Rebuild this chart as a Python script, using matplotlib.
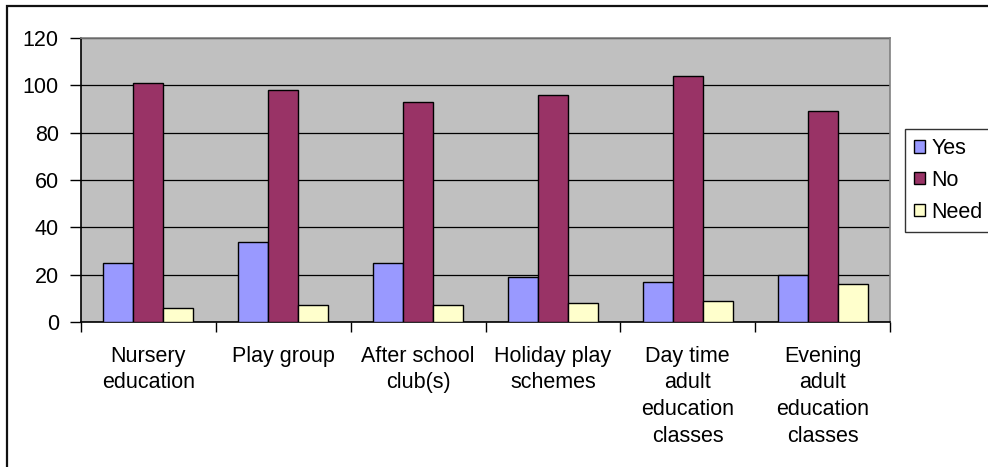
import matplotlib.pyplot as plt
import numpy as np
from matplotlib.patches import Patch, Rectangle

plt.rcParams["font.family"] = ["Liberation Sans", "DejaVu Sans"]

categories = [
    "Nursery\neducation",
    "Play group",
    "After school\nclub(s)",
    "Holiday play\nschemes",
    "Day time\nadult\neducation\nclasses",
    "Evening\nadult\neducation\nclasses",
]
series_names = ["Yes", "No", "Need"]
yes_values = [25, 34, 25, 19, 17, 20]
no_values = [101, 98, 93, 96, 104, 89]
need_values = [6, 7, 7, 8, 9, 16]
y_ticks = [0, 20, 40, 60, 80, 100, 120]

COLORS = ["#9999FF", "#993366", "#FFFFCC"]
FONT = 15.5

W, H = 988, 467
fig = plt.figure(figsize=(W / 100, H / 100), dpi=100)
ax = fig.add_axes([81 / W, 1 - 322 / H, (890 - 81) / W, (322 - 38) / H])
ax.set_facecolor("#C0C0C0")

x = np.arange(len(categories))
width = 0.2225
for i, (vals, color) in enumerate(zip([yes_values, no_values, need_values], COLORS)):
    ax.bar(x + (i - 1) * width, vals, width, color=color, edgecolor="black",
           linewidth=1.0, zorder=3)

ax.set_xlim(-0.5, len(categories) - 0.5)
ax.set_ylim(0, 120)
ax.set_yticks(y_ticks)
ax.yaxis.grid(True, color="black", linewidth=0.9, zorder=1)
ax.set_axisbelow(True)

ax.set_xticks(x)
ax.set_xticklabels(categories, fontsize=FONT, linespacing=1.36, va="top")
ax.tick_params(axis="x", length=0, pad=17)
ax.set_xticks(np.arange(-0.5, len(categories), 1.0), minor=True)
ax.tick_params(axis="x", which="minor", length=7, width=1, direction="out", color="black")
ax.tick_params(axis="y", length=8, width=1, direction="out", pad=8, labelsize=FONT)

for side in ["top", "right"]:
    ax.spines[side].set_color("#808080")
    ax.spines[side].set_linewidth(1.2)
for side in ["left", "bottom"]:
    ax.spines[side].set_color("black")
    ax.spines[side].set_linewidth(1.2)

handles = [Patch(facecolor=c, edgecolor="black", linewidth=1.0) for c in COLORS]
leg = fig.legend(handles, series_names, loc="upper left",
                 bbox_to_anchor=(905 / W, 1 - 129 / H), fontsize=FONT,
                 frameon=True, fancybox=False, edgecolor="black",
                 handlelength=0.5, handleheight=0.5, handletextpad=0.3,
                 borderpad=0.42, labelspacing=0.5, borderaxespad=0)
leg.get_frame().set_linewidth(1.0)

# outer chart border (right and bottom edges are cut off in the original)
fig.patches.append(Rectangle((6.5 / W, -0.1), 1.2, 1 - 5.8 / H + 0.1,
                             transform=fig.transFigure, fill=False,
                             edgecolor="#111111", linewidth=1.6))

fig.savefig("out.png", dpi=100)
